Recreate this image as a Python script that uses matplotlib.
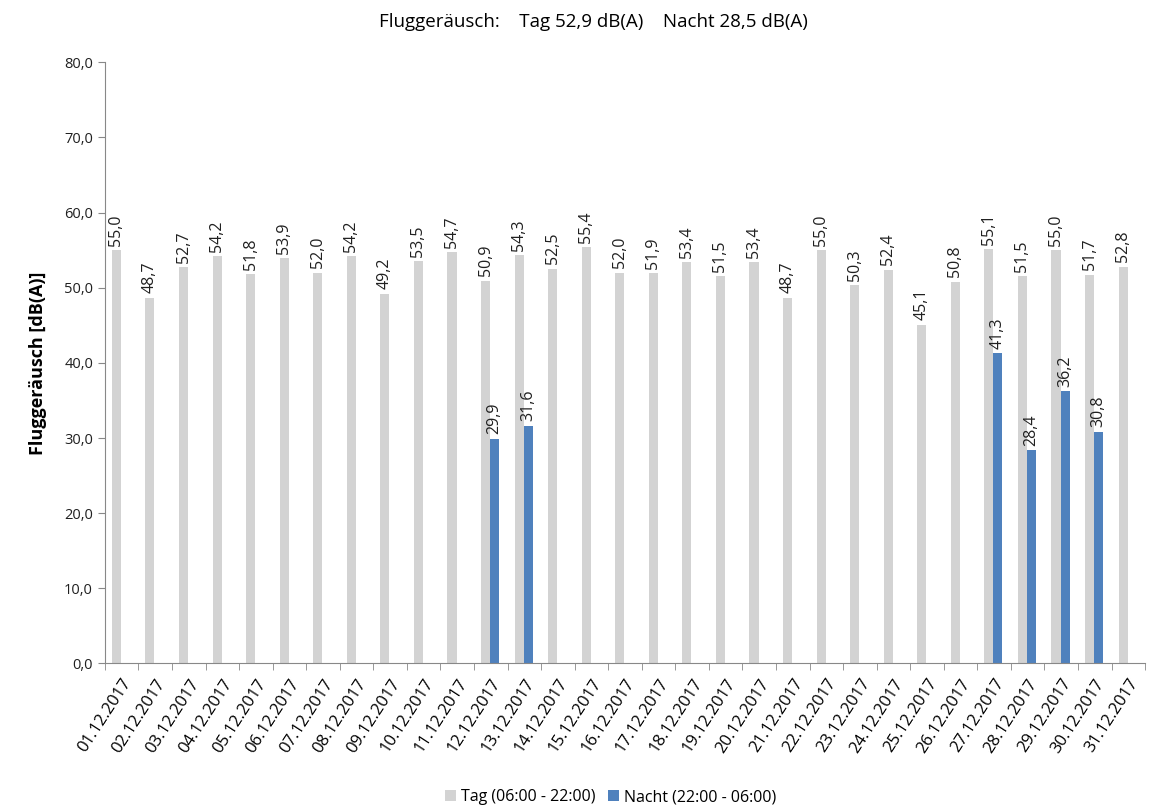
import numpy as np
import matplotlib.pyplot as plt
from matplotlib.ticker import FuncFormatter

plt.rcParams['font.family'] = ['Open Sans', 'DejaVu Sans']

# Daten
tage = ['%02d.12.2017' % d for d in range(1, 32)]
tag = [55.0, 48.7, 52.7, 54.2, 51.8, 53.9, 52.0, 54.2, 49.2, 53.5, 54.7,
       50.9, 54.3, 52.5, 55.4, 52.0, 51.9, 53.4, 51.5, 53.4, 48.7, 55.0,
       50.3, 52.4, 45.1, 50.8, 55.1, 51.5, 55.0, 51.7, 52.8]
nacht = [np.nan] * 31
nacht[11] = 29.9
nacht[12] = 31.6
nacht[26] = 41.3
nacht[27] = 28.4
nacht[28] = 36.2
nacht[29] = 30.8

def de(v):
    return ('%.1f' % v).replace('.', ',')

x = np.arange(len(tage))
w = 0.27

fig = plt.figure(figsize=(11.52, 8.1), dpi=100)
ax = fig.add_axes([0.091, 0.181, 0.903, 0.742])

b1 = ax.bar(x - w / 2 - 0.02, tag, w, color='#d3d3d3', label='Tag (06:00 - 22:00)')
b2 = ax.bar(x + w / 2 - 0.02, nacht, w, color='#4f81bd', label='Nacht (22:00 - 06:00)')

for xi, v in zip(x, tag):
    ax.text(xi - w / 2 - 0.02, v + 0.6, de(v), rotation=90, ha='center', va='bottom',
            fontsize=11.5, color='#202020')
for xi, v in zip(x, nacht):
    if not np.isnan(v):
        ax.text(xi + w / 2 - 0.02, v + 0.6, de(v), rotation=90, ha='center', va='bottom',
                fontsize=11.5, color='#202020')

ax.set_xlim(-0.5, len(tage) - 0.5)
ax.set_ylim(0, 80)
ax.set_yticks(np.arange(0, 81, 10))
ax.yaxis.set_major_formatter(FuncFormatter(lambda v, p: de(v)))
ax.tick_params(axis='y', labelsize=10.5, length=5, color='#888888', colors='#202020')

ax.set_xticks(x)
ax.set_xticklabels(tage, rotation=57, ha='right', rotation_mode='anchor', fontsize=12)
ax.set_xticks(np.arange(-0.5, len(tage), 1), minor=True)
ax.tick_params(axis='x', which='major', length=0, pad=9)
ax.tick_params(axis='x', which='minor', length=5, color='#888888')

for s in ['top', 'right']:
    ax.spines[s].set_visible(False)
for s in ['left', 'bottom']:
    ax.spines[s].set_color('#888888')

ax.set_ylabel('Fluggeräusch [dB(A)]', fontsize=13, fontweight='bold', labelpad=12)

fig.text(0.515, 0.973, 'Fluggeräusch:    Tag 52,9 dB(A)    Nacht 28,5 dB(A)',
         fontsize=13.5, ha='center', va='center')

fig.legend(handles=[b1, b2], loc='lower center', bbox_to_anchor=(0.53, -0.012), ncol=2,
           frameon=False, fontsize=11.5, handlelength=0.7, handleheight=0.7,
           handletextpad=0.3, columnspacing=0.8)

plt.savefig('out.png', dpi=100)
